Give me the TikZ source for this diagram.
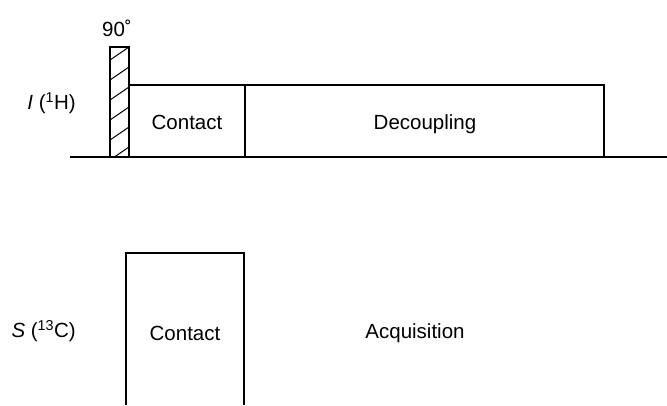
\documentclass[tikz,border=0pt]{standalone}
\usepackage{fontspec}
\setmainfont{Liberation Sans}
\begin{document}
\begin{tikzpicture}[x=1pt,y=-1pt,
  pulse/.style={draw=black,line width=1.2pt},
  base/.style={draw=black,line width=1.7pt},
  lbl/.style={inner sep=0pt,font=\fontsize{20.5}{24}\selectfont}]
\useasboundingbox (0,0) rectangle (667,405);
% I channel
\draw[base] (70,157) -- (667,157);
\begin{scope}
  \clip (110,47) rectangle (129,157);
  \foreach \k in {-1,...,7}
    \draw[line width=1pt] (110,{40+20*\k}) -- (129,{27+20*\k});
\end{scope}
\draw[pulse] (110,157) -- (110,47) -- (129,47) -- (129,157);
\draw[pulse] (129,157) -- (129,85) -- (604,85) -- (604,157);
\draw[pulse] (245,85) -- (245,157);
\node[lbl] (deg) at (117,28) {90\char"02DA};
\node[lbl,anchor=east] (Ilab) at (76,103) {\textit{I} (\textsuperscript{1}H)};
\node[lbl] (c1) at (187,122) {Contact};
\node[lbl] (dec) at (425,124) {Decoupling};
% S channel
\draw[pulse] (126,405) -- (126,253) -- (244,253) -- (244,405);
\node[lbl,anchor=east] (Slab) at (76,331) {\textit{S} (\textsuperscript{13}C)};
\node[lbl] (c2) at (185,333) {Contact};
\node[lbl] (acq) at (415,333) {Acquisition};
\end{tikzpicture}
\end{document}
